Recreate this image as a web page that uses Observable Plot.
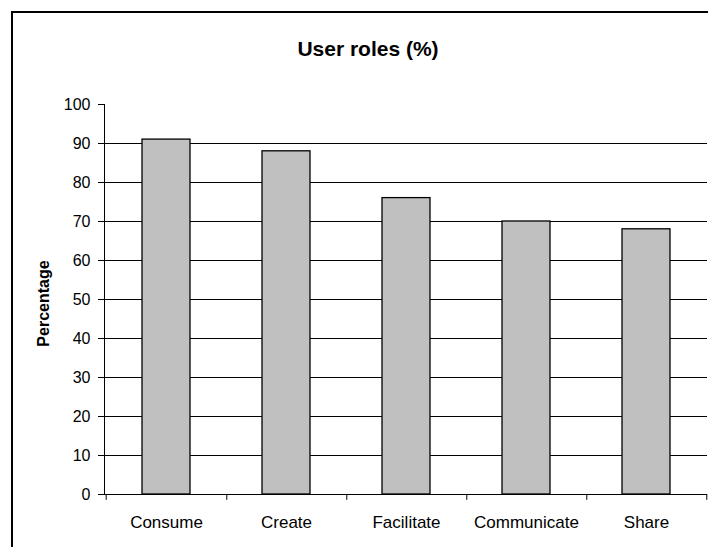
<!DOCTYPE html>
<html>
<head>
<meta charset="utf-8">
<script src="https://cdn.jsdelivr.net/npm/d3@7"></script>
<script src="https://cdn.jsdelivr.net/npm/@observablehq/plot@0.6"></script>
<style>
  html, body { margin: 0; padding: 0; background: #fff; }
  #wrap { position: relative; width: 708px; height: 547px; overflow: hidden; font-family: "Liberation Sans", Arial, sans-serif; }
  #border { position: absolute; left: 11px; top: 11px; width: 800px; height: 700px; border: 2px solid #000; box-sizing: border-box; }
  #title { position: absolute; left: 0; width: 736px; top: 37px; text-align: center; font-weight: bold; font-size: 21px; color: #000; }
  #chart { position: absolute; left: 0; top: 0; }
</style>
</head>
<body>
<div id="wrap">
  <div id="border"></div>
  <div id="title">User roles (%)</div>
  <div id="chart"></div>
</div>
<script>
const categories = ["Consume", "Create", "Facilitate", "Communicate", "Share"];
const values = [91, 88, 76, 70, 68];
const yTicks = [0, 10, 20, 30, 40, 50, 60, 70, 80, 90, 100];
const gridTicks = [10, 20, 30, 40, 50, 60, 70, 80, 90];
const yLabel = "Percentage";

const data = categories.map((c, i) => ({category: c, value: values[i]}));

const W = 708, H = 547, ML = 104, MR = 1, MT = 104, MB = 53;
const step = (W - ML - MR) / categories.length;

const chart = Plot.plot({
  width: W,
  height: H,
  marginLeft: ML,
  marginRight: MR,
  marginTop: MT,
  marginBottom: MB,
  style: { fontFamily: '"Liberation Sans", Arial, sans-serif', background: "transparent", color: "#000" },
  x: { domain: categories, paddingInner: 0.6, paddingOuter: 0.3 },
  y: { domain: [0, 100] },
  marks: [
    Plot.ruleY(gridTicks, { stroke: "#000", strokeWidth: 1 }),
    Plot.barY(data, { x: "category", y: "value", fill: "#c0c0c0", stroke: "#000", strokeWidth: 1.3 }),
    Plot.ruleY([0], { stroke: "#000", strokeWidth: 1 }),
    Plot.frame({ anchor: "left", stroke: "#000", strokeWidth: 1 }),
    Plot.ruleX(categories, { x: d => d, dx: step / 2, y1: 0, y2: -1.5, stroke: "#000" }),
    Plot.ruleX([categories[0]], { x: d => d, dx: -step / 2, y1: 0, y2: -1.5, stroke: "#000" }),
    Plot.axisY({ ticks: yTicks, tickSize: 6, tickPadding: 8, fontSize: 16, label: null, tickFormat: d => String(d), stroke: "#000" }),
    Plot.axisX({ tickSize: 0, tickPadding: 21, fontSize: 17, label: null }),
    Plot.text([yLabel], { text: d => d, frameAnchor: "left", textAnchor: "middle", rotate: -90, dx: -61, dy: 4, fontSize: 16, fontWeight: "bold", fill: "#000" })
  ]
});
document.getElementById("chart").appendChild(chart);
</script>
</body>
</html>
